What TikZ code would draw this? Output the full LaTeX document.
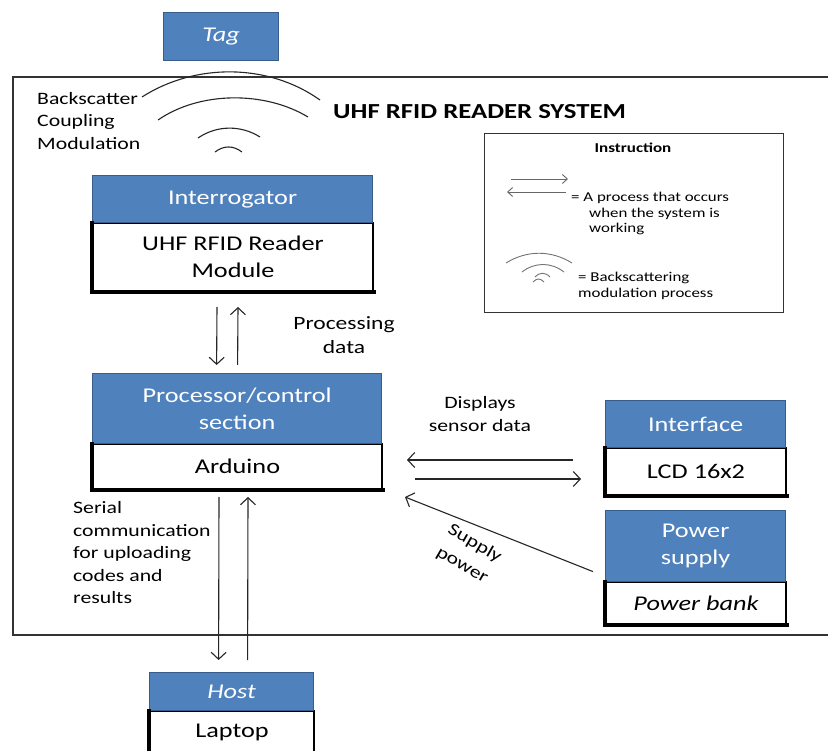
\documentclass[tikz,border=0pt]{standalone}
\usepackage{fontspec}
\setmainfont[FakeStretch=1.25]{Carlito}
\usetikzlibrary{arrows.meta}
\definecolor{hdrblue}{HTML}{4F81BD}
\definecolor{hdredge}{HTML}{385D8A}
\begin{document}
\begin{tikzpicture}[x=1pt,y=-1pt,
 hdr/.style={draw=hdredge, line width=1.2pt, fill=hdrblue, text=white, anchor=north west, inner sep=0pt, align=center, font=\fontsize{21}{27.5}\selectfont},
 bdy/.style={draw=black, line width=2pt, fill=white, anchor=north west, inner sep=0pt, align=center, font=\fontsize{21}{27.5}\selectfont},
 lbl/.style={inner sep=0pt, font=\fontsize{17.4}{22.5}\selectfont},
 small/.style={inner sep=0pt, font=\fontsize{13.5}{15.5}\selectfont},
 arr/.style={line width=1.1pt, draw=black!85, -{Straight Barb[length=7pt,width=15pt,line width=1.1pt]}},
 sarr/.style={line width=0.9pt, draw=black!60, -{Straight Barb[length=5pt,width=9pt,line width=0.9pt]}},
 wave/.style={line width=1.1pt, draw=black!85},
 swave/.style={line width=0.9pt, draw=black!55},
 shadowedge/.style={line width=3.5pt, draw=black, line cap=rect}]
\useasboundingbox (0,0) rectangle (828,751);
\fill[white] (0,0) rectangle (828,751);

% outer frame
\draw[line width=1.2pt, draw=black!80] (828,77) -- (13,77) -- (13,635) -- (828,635);

% tag
\node[hdr, minimum width=115, minimum height=48] (tag) at (163,12) {\itshape Tag};

% waves
\draw[wave] (142,97) .. controls (195,63) and (268,63) .. (320,100);
\draw[wave] (158,120) .. controls (200,91) and (265,91) .. (308,117);
\draw[wave] (198,138) .. controls (217,125) and (241,125) .. (260,137);
\draw[wave] (215,152) .. controls (224,145.3) and (233,145.3) .. (242,152);

\node[lbl, anchor=west, align=left] (bsc) at (37,121) {Backscatter\\Coupling\\Modulation};
\node[inner sep=0pt, anchor=west, font=\fontsize{21.4}{24}\selectfont\bfseries] (title) at (333,112) {UHF RFID READER SYSTEM};

% interrogator
\node[bdy, minimum width=280, minimum height=68] (intB) at (92,222) {UHF RFID Reader\\Module};
\node[hdr, minimum width=280, minimum height=47] (intH) at (92,175) {Interrogator};

% processor
\node[bdy, minimum width=289, minimum height=45] (procB) at (92,443) {Arduino};
\node[hdr, minimum width=289, minimum height=70] (procH) at (92,373) {Processor/control\\section};

% interface
\node[bdy, minimum width=180, minimum height=47] (ifB) at (605,447) {LCD 16x2};
\node[hdr, minimum width=180, minimum height=47] (ifH) at (605,400) {Interface};

% power supply
\node[bdy, minimum width=180, minimum height=42] (pwB) at (605,581) {\itshape Power bank};
\node[hdr, minimum width=180, minimum height=71] (pwH) at (605,510) {Power\\supply};

% host
\node[bdy, minimum width=164, minimum height=42] (hostB) at (149,710) {Laptop};
\node[hdr, minimum width=164, minimum height=38] (hostH) at (149,672) {\itshape Host};

% thick left/bottom edges of white bodies
\foreach \b/\h in {intB/intH, procB/procH, ifB/ifH, pwB/pwH, hostB/hostH}{
  \draw[shadowedge] (\h.south west) -- (\b.south west) -- (\b.south east);
}

% arrows interrogator <-> processor
\draw[arr] ([xshift=-16pt,yshift=-15pt]intB.south) -- ([xshift=-20.5pt,yshift=8pt]procH.north);
\draw[arr] ([xshift=0.5pt,yshift=8pt]procH.north) -- ([xshift=5pt,yshift=-15pt]intB.south);
\node[lbl, align=center, font=\fontsize{18.8}{24}\selectfont] (proc) at (344,335) {Processing\\data};

% serial
\draw[arr] ([xshift=-18.5pt,yshift=-7pt]procB.south) -- ([xshift=-13pt,yshift=12pt]hostH.north);
\draw[arr] ([xshift=16pt,yshift=12pt]hostH.north) -- ([xshift=10.5pt,yshift=-7pt]procB.south);
\node[lbl, anchor=west, align=left] (ser) at (73,553) {Serial\\communication\\for uploading\\codes and\\results};

% interface arrows
\draw[arr] ([xshift=-32pt,yshift=11.5pt]ifB.west) -- ([xshift=24pt,yshift=6.5pt]procB.east);
\draw[arr] ([xshift=32pt,yshift=-12.5pt]procB.east) -- ([xshift=-24pt,yshift=-7.5pt]ifB.west);
\node[lbl, align=center] (disp) at (480,414) {Displays\\sensor data};

% power arrow
\draw[arr] ([xshift=-12pt,yshift=-25.5pt]pwH.west) -- ([xshift=22pt,yshift=-7pt]procB.south east);
\node[lbl, rotate=-30, align=center, font=\fontsize{17.4}{25}\selectfont] (sup) at (468.5,554.5) {Supply\\power};

% instruction box
\node[draw=black!80, line width=1.2pt, anchor=north west, minimum width=299, minimum height=179, inner sep=0pt] (ibox) at (484,133) {};
\node[small, font=\fontsize{13.6}{15}\selectfont\bfseries] (ititle) at (633,148) {Instruction};
\coordinate (ia1) at (511,179);
\coordinate (ia2) at (568,179);
\coordinate (ib1) at (566,192);
\coordinate (ib2) at (507,192);
\draw[sarr] (ia1) -- (ia2);
\draw[sarr] (ib1) -- (ib2);
\node[small, anchor=north west, align=left] (itxt1) at (571,192) {= A process that occurs\\\hspace*{18pt}when the system is\\\hspace*{18pt}working};
\draw[swave] (506,263) .. controls (527,250) and (551,250) .. (572,263);
\draw[swave] (522,272) .. controls (535,262) and (551,262) .. (564,272);
\draw[swave] (535,277) .. controls (540,272) and (545,272) .. (550,277);
\draw[swave] (533,282) .. controls (537,278) and (540,278) .. (544,282);
\node[small, anchor=north west, align=left] (itxt2) at (578,272) {= Backscattering\\modulation process};
\end{tikzpicture}
\end{document}
